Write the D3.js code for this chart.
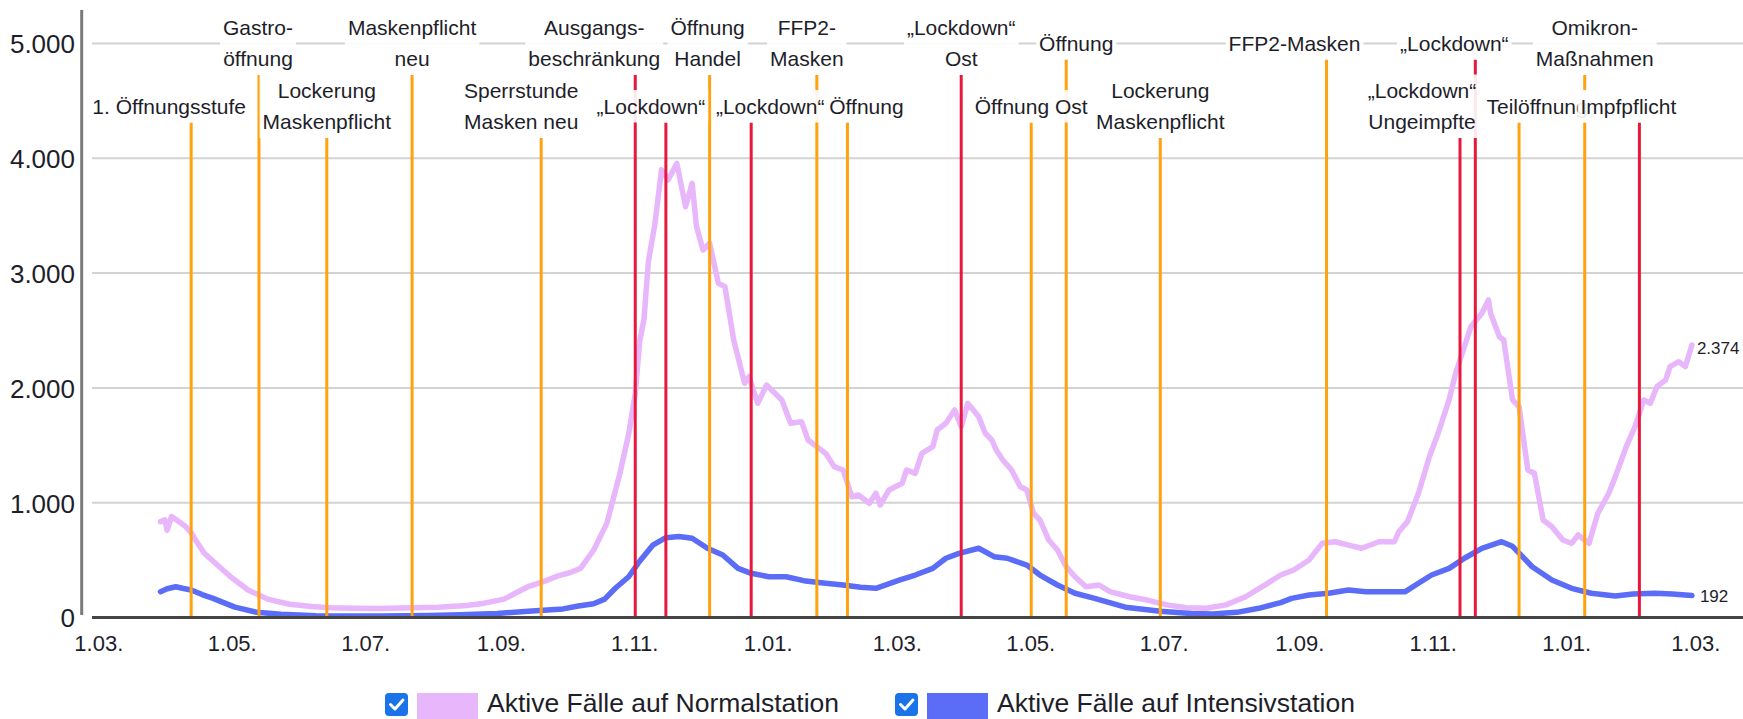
<!DOCTYPE html>
<html><head><meta charset="utf-8">
<script src="https://cdn.jsdelivr.net/npm/d3@7/dist/d3.min.js"></script>
<style>
html,body{margin:0;padding:0;background:#fff;}
svg{display:block;}
text{font-family:"Liberation Sans",Arial,sans-serif;fill:#1e1e2a;}
</style></head><body>
<svg id="chart" width="1743" height="719"></svg>
<script>
// ---------- DATA ----------
const normalSeries = [
["2020-03-31",835],["2020-04-02",850],["2020-04-03",760],["2020-04-05",880],["2020-04-08",840],["2020-04-11",800],
["2020-04-14",740],["2020-04-16",675],["2020-04-20",560],["2020-04-26",457],["2020-05-02",355],["2020-05-10",240],
["2020-05-19",160],["2020-05-29",115],["2020-06-08",95],["2020-06-17",85],["2020-06-28",80],["2020-07-09",78],
["2020-07-24",85],["2020-08-05",90],["2020-08-18",105],["2020-08-26",125],["2020-09-04",160],["2020-09-10",220],
["2020-09-15",268],["2020-09-21",305],["2020-09-29",365],["2020-10-04",390],["2020-10-09",428],["2020-10-15",588],
["2020-10-21",820],["2020-10-27",1256],["2020-10-31",1600],["2020-11-03",1950],["2020-11-05",2400],["2020-11-07",2600],
["2020-11-09",3100],["2020-11-12",3430],["2020-11-15",3900],["2020-11-18",3811],["2020-11-22",3956],["2020-11-26",3578],
["2020-11-29",3782],["2020-12-01",3404],["2020-12-04",3201],["2020-12-07",3260],["2020-12-11",2911],["2020-12-14",2882],
["2020-12-18",2417],["2020-12-23",2040],["2020-12-25",2098],["2020-12-29",1866],["2021-01-02",2025],["2021-01-09",1895],
["2021-01-13",1692],["2021-01-18",1706],["2021-01-21",1546],["2021-01-25",1488],["2021-01-29",1430],["2021-02-02",1314],
["2021-02-06",1285],["2021-02-10",1052],["2021-02-13",1067],["2021-02-18",995],["2021-02-21",1082],["2021-02-23",980],
["2021-02-27",1111],["2021-03-05",1169],["2021-03-07",1285],["2021-03-11",1256],["2021-03-14",1430],["2021-03-19",1488],
["2021-03-21",1633],["2021-03-25",1692],["2021-03-29",1808],["2021-04-01",1662],["2021-04-04",1866],["2021-04-09",1749],
["2021-04-12",1605],["2021-04-15",1546],["2021-04-17",1459],["2021-04-20",1372],["2021-04-24",1285],["2021-04-28",1139],
["2021-05-01",1111],["2021-05-04",908],["2021-05-07",849],["2021-05-11",675],["2021-05-15",588],["2021-05-19",442],
["2021-05-23",355],["2021-05-28",268],["2021-06-03",283],["2021-06-08",225],["2021-06-17",181],["2021-06-25",152],
["2021-07-04",110],["2021-07-13",85],["2021-07-22",80],["2021-07-31",110],["2021-08-09",181],["2021-08-19",298],
["2021-08-25",370],["2021-08-31",414],["2021-09-07",501],["2021-09-13",646],["2021-09-19",660],["2021-09-25",631],
["2021-10-01",603],["2021-10-09",660],["2021-10-16",660],["2021-10-18",747],["2021-10-22",835],["2021-10-27",1082],
["2021-11-01",1401],["2021-11-05",1605],["2021-11-10",1895],["2021-11-13",2127],["2021-11-17",2359],["2021-11-20",2533],
["2021-11-25",2650],["2021-11-28",2766],["2021-11-29",2650],["2021-12-03",2446],["2021-12-05",2417],["2021-12-09",1895],
["2021-12-12",1836],["2021-12-16",1285],["2021-12-19",1256],["2021-12-23",849],["2021-12-27",791],["2022-01-01",675],
["2022-01-05",646],["2022-01-08",719],["2022-01-13",646],["2022-01-17",908],["2022-01-22",1082],["2022-01-25",1226],
["2022-01-30",1488],["2022-02-03",1662],["2022-02-07",1895],["2022-02-10",1866],["2022-02-13",2011],["2022-02-17",2069],
["2022-02-19",2185],["2022-02-23",2228],["2022-02-26",2185],["2022-03-01",2374]
];
const icuSeries = [
["2020-03-31",225],["2020-04-03",250],["2020-04-07",268],["2020-04-10",255],["2020-04-14",240],["2020-04-19",200],
["2020-04-24",167],["2020-05-04",90],["2020-05-14",45],["2020-05-25",28],["2020-06-10",15],["2020-07-10",12],
["2020-08-01",18],["2020-08-15",25],["2020-09-01",35],["2020-09-15",55],["2020-10-01",75],["2020-10-08",100],
["2020-10-15",120],["2020-10-20",160],["2020-10-25",257],["2020-10-31",355],["2020-11-05",490],["2020-11-11",630],
["2020-11-17",695],["2020-11-23",705],["2020-11-29",690],["2020-12-06",603],["2020-12-13",544],["2020-12-20",428],
["2020-12-26",385],["2021-01-03",355],["2021-01-11",355],["2021-01-19",321],["2021-01-29",298],["2021-02-06",283],
["2021-02-14",263],["2021-02-21",254],["2021-03-04",327],["2021-03-11",370],["2021-03-19",428],["2021-03-25",516],
["2021-03-31",559],["2021-04-09",603],["2021-04-16",530],["2021-04-22",516],["2021-05-01",457],["2021-05-07",370],
["2021-05-15",283],["2021-05-23",211],["2021-06-01",167],["2021-06-15",90],["2021-07-01",55],["2021-07-15",35],
["2021-07-25",30],["2021-08-05",45],["2021-08-15",80],["2021-08-25",130],["2021-08-30",167],["2021-09-07",196],
["2021-09-16",211],["2021-09-25",240],["2021-10-03",225],["2021-10-21",225],["2021-10-27",298],["2021-11-02",370],
["2021-11-10",428],["2021-11-17",516],["2021-11-25",603],["2021-12-04",660],["2021-12-09",620],["2021-12-18",442],
["2021-12-27",327],["2022-01-05",254],["2022-01-14",211],["2022-01-25",187],["2022-02-02",205],["2022-02-12",211],
["2022-02-20",205],["2022-03-01",192]
];
const seriesNames = ["Aktive Fälle auf Normalstation","Aktive Fälle auf Intensivstation"];
const yTicks = [0,1000,2000,3000,4000,5000];
const xTickMonths = ["2020-03-01","2020-05-01","2020-07-01","2020-09-01","2020-11-01","2021-01-01","2021-03-01",
                     "2021-05-01","2021-07-01","2021-09-01","2021-11-01","2022-01-01","2022-03-01"];
const eventDates = ["2020-04-14","2020-05-15","2020-06-15","2020-07-24","2020-09-21","2020-11-03","2020-11-17",
  "2020-12-07","2020-12-26","2021-01-25","2021-02-08","2021-04-01","2021-05-03","2021-05-19","2021-07-01",
  "2021-09-15","2021-11-15","2021-11-22","2021-12-12","2022-01-11","2022-02-05"];
// o = opening / mask measure (orange), r = restriction (red)
const eventColorClass = ["o","o","o","o","o","r","r","o","r","o","o","r","o","o","o","o","r","r","o","o","r"];
const eventLabels = ["1. Öffnungsstufe","Gastro-\nöffnung","Lockerung\nMaskenpflicht","Maskenpflicht\nneu",
  "Sperrstunde\nMasken neu","Ausgangs-\nbeschränkung","„Lockdown“","Öffnung\nHandel","„Lockdown“","FFP2-\nMasken",
  "Öffnung","„Lockdown“\nOst","Öffnung Ost","Öffnung","Lockerung\nMaskenpflicht","FFP2-Masken",
  "„Lockdown“\nUngeimpfte","„Lockdown“","Teilöffnung","Omikron-\nMaßnahmen","Impfpflicht"];

// ---------- LAYOUT ----------
const labelRow =   ["low","top","low","top","low","top","low","top","low","top","low","top","low","top","low","top","low","top","low","top","low"];
const labelShift = [-22,-1,0,0,-20,-41,-15,-2,19,-10,19,0,0,10,0,-32,-38,-21,18,10,-11];

const W = 1743, H = 719;
const parse = d3.utcParse("%Y-%m-%d");
const x = d3.scaleUtc().domain([parse("2020-03-01"), parse("2022-03-01")]).range([94.9, 1691.9]);
const y = d3.scaleLinear().domain([0,5000]).range([617.5, 43.5]);
const de = d3.formatLocale({decimal:",", thousands:".", grouping:[3], currency:["","€"]});
const fmt = de.format(",");

const svg = d3.select("#chart");

// gridlines
svg.append("g").selectAll("line").data(yTicks.filter(d=>d>0)).join("line")
  .attr("x1",92).attr("x2",W).attr("y1",d=>y(d)).attr("y2",d=>y(d))
  .attr("stroke","#d3d3d3").attr("stroke-width",2);

// y axis labels
const yAxis = svg.append("g").attr("transform","translate(75,0)")
  .call(d3.axisLeft(y).tickValues(yTicks).tickSize(0).tickPadding(0).tickFormat(fmt));
yAxis.select(".domain").remove();
yAxis.selectAll("text").attr("font-size",26).attr("font-family",null).attr("fill","#1e1e2a").attr("dy","0.36em");
svg.append("line").attr("x1",81.7).attr("x2",81.7).attr("y1",10).attr("y2",615)
  .attr("stroke","#7a7a7a").attr("stroke-width",3);

// series
const line = d3.line().x(d=>x(parse(d[0]))).y(d=>y(d[1]));
const seriesColors = ["#e8b6fb","#5b6cf6"];
[normalSeries, icuSeries].forEach((s,i)=>{
  svg.append("path").datum(s).attr("d",line).attr("fill","none")
    .attr("stroke",seriesColors[i]).attr("stroke-width",5.5)
    .attr("stroke-linejoin","round").attr("stroke-linecap","round");
});

// event lines
const pitch = 31;
const rowCenter = {top:43, low:106};
function labelLines(i){ return eventLabels[i].split("\n"); }
function boxBottom(i){ const n = labelLines(i).length; const first = rowCenter[labelRow[i]] - (n-1)*pitch/2; return first + (n-1)*pitch + 16.5; }
const evG = svg.append("g");
eventDates.forEach((d,i)=>{
  evG.append("line").attr("x1",x(parse(d))).attr("x2",x(parse(d)))
    .attr("y1",boxBottom(i)).attr("y2",y(0))
    .attr("stroke", eventColorClass[i]==="r" ? "#e8173c" : "#ffa20f").attr("stroke-width",3);
});

// labels
eventDates.forEach((d,i)=>{
  const g = svg.append("g");
  const lines = labelLines(i);
  const n = lines.length;
  const cx = x(parse(d)) + labelShift[i];
  const first = rowCenter[labelRow[i]] - (n-1)*pitch/2;
  const rect = g.append("rect");
  const t = g.append("text").attr("text-anchor","middle").attr("font-size",21);
  lines.forEach((l,k)=>{
    t.append("tspan").attr("x",cx).attr("y",first + k*pitch).attr("dy","0.36em").text(l);
  });
  const bb = t.node().getBBox();
  rect.attr("x",bb.x-3).attr("width",bb.width+6)
    .attr("y",first-16).attr("height",(n-1)*pitch+32.5)
    .attr("fill","#fff").attr("fill-opacity",0.9);
});

// x axis
svg.append("line").attr("x1",92).attr("x2",W).attr("y1",y(0)).attr("y2",y(0))
  .attr("stroke","#444").attr("stroke-width",3);
const xAxis = svg.append("g").attr("transform",`translate(3.4,${y(0)})`)
  .call(d3.axisBottom(x).tickValues(xTickMonths.map(parse)).tickSize(0).tickPadding(0)
    .tickFormat(d3.utcFormat("%-d.%m.")));
xAxis.select(".domain").remove();
xAxis.selectAll("text").attr("font-size",22).attr("font-family",null).attr("fill","#1e1e2a")
  .attr("y",26).attr("dy","0.36em");

// end labels
const lastN = normalSeries[normalSeries.length-1], lastI = icuSeries[icuSeries.length-1];
svg.append("text").attr("x",x(parse(lastN[0]))+5).attr("y",y(lastN[1])+3).attr("dy","0.36em")
  .attr("font-size",17).text(fmt(lastN[1]));
svg.append("text").attr("x",x(parse(lastI[0]))+8).attr("y",y(lastI[1])).attr("dy","0.36em")
  .attr("font-size",17).text(fmt(lastI[1]));

// legend
const legendX = [385, 895];
const legG = svg.append("g");
seriesNames.forEach((name,i)=>{
  const lx = legendX[i];
  legG.append("rect").attr("x",lx).attr("y",693).attr("width",23).attr("height",23).attr("rx",4)
    .attr("fill","#1a73e8");
  legG.append("path").attr("d",`M${lx+5.5},${704.5} l4.5,4.5 l8,-9`).attr("fill","none")
    .attr("stroke","#fff").attr("stroke-width",3).attr("stroke-linecap","round").attr("stroke-linejoin","round");
  legG.append("rect").attr("x",lx+32).attr("y",693).attr("width",61).attr("height",26).attr("fill",seriesColors[i]);
  legG.append("text").attr("x",lx+102).attr("y",702.5).attr("dy","0.36em").attr("font-size",26.5).attr("fill","#333")
    .text(name);
});
</script>
</body></html>
